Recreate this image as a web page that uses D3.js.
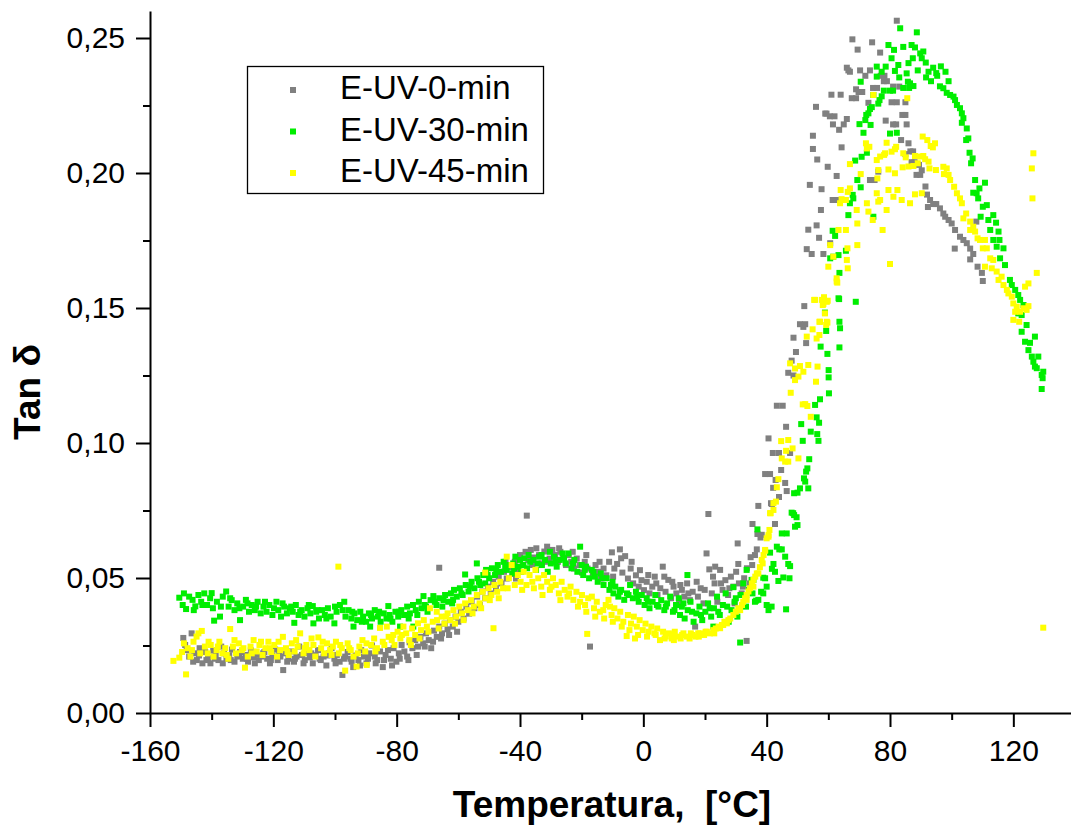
<!DOCTYPE html>
<html>
<head>
<meta charset="utf-8">
<script src="https://d3js.org/d3.v7.min.js"></script>
<style>
  body { margin: 0; background: #fff; }
  text { font-family: "Liberation Sans", Arial, sans-serif; }
</style>
</head>
<body>
<svg width="1071" height="828"></svg>
<script>
// tan delta vs temperature, [temperature °C, tan delta]
var uv0 = [
  [-149.2,.0278],[-148.1,.0233],[-147.3,.0209],[-146.5,.0295],[-145.6,.0221],[-144.8,.0196],[-143.9,.0240],[-143.0,.0184],[-142.1,.0226],[-141.2,.0204],
  [-140.4,.0184],[-139.5,.0231],[-138.7,.0212],[-137.8,.0196],[-136.9,.0246],[-136.0,.0221],[-135.2,.0201],[-134.3,.0214],[-133.4,.0235],[-132.6,.0190],
  [-131.7,.0209],[-130.8,.0226],[-129.9,.0201],[-129.0,.0215],[-128.2,.0190],[-127.3,.0232],[-126.4,.0206],[-125.6,.0218],[-124.7,.0196],[-123.8,.0209],
  [-122.9,.0226],[-122.0,.0201],[-121.1,.0184],[-120.3,.0213],[-119.4,.0235],[-118.6,.0196],[-117.7,.0209],[-116.8,.0159],[-116.0,.0221],[-115.1,.0201],
  [-114.2,.0228],[-113.3,.0190],[-112.5,.0209],[-111.6,.0246],[-110.7,.0215],[-109.8,.0196],[-109.0,.0221],[-108.1,.0206],[-107.2,.0184],[-106.3,.0214],
  [-105.5,.0233],[-104.6,.0196],[-103.7,.0209],[-102.8,.0176],[-102.0,.0221],[-101.1,.0240],[-100.2,.0201],[-99.4,.0215],[-98.5,.0190],[-97.6,.0141],
  [-96.7,.0209],[-95.9,.0226],[-95.0,.0201],[-94.1,.0170],[-93.3,.0213],[-92.4,.0196],[-91.5,.0233],[-90.6,.0209],[-89.8,.0184],[-88.9,.0221],
  [-88.0,.0250],[-87.1,.0209],[-86.3,.0196],[-85.4,.0228],[-84.5,.0170],[-83.6,.0215],[-82.8,.0233],[-81.9,.0201],[-81.0,.0240],[-80.1,.0190],
  [-79.3,.0221],[-78.4,.0252],[-77.5,.0228],[-76.6,.0209],[-75.8,.0262],[-74.9,.0240],[-74.0,.0270],[-73.1,.0246],[-72.3,.0282],[-71.4,.0258],
  [-70.5,.0295],[-69.6,.0270],[-68.8,.0240],[-67.9,.0305],[-67.0,.0282],[-66.2,.0538],[-66.2,.0320],[-65.3,.0295],[-64.4,.0331],[-63.5,.0310],
  [-62.7,.0344],[-61.8,.0320],[-60.9,.0357],[-60.0,.0338],[-59.2,.0375],[-58.3,.0350],[-57.4,.0394],[-56.5,.0368],[-55.7,.0412],[-54.8,.0388],
  [-53.9,.0431],[-53.0,.0400],[-52.2,.0450],[-51.3,.0425],[-50.4,.0468],[-49.5,.0443],[-48.7,.0486],[-47.8,.0462],[-46.9,.0505],[-46.0,.0480],
  [-45.2,.0523],[-44.3,.0498],[-43.4,.0540],[-42.5,.0515],[-41.7,.0560],[-40.8,.0532],[-40.0,.0585],[-39.1,.0548],[-38.2,.0597],[-37.8,.0731],
  [-37.3,.0567],[-36.5,.0604],[-35.6,.0576],[-34.7,.0610],[-33.8,.0585],[-33.0,.0554],[-32.1,.0598],[-31.2,.0616],[-30.4,.0572],[-29.5,.0604],
  [-28.6,.0585],[-27.7,.0560],[-26.9,.0597],[-26.0,.0573],[-25.1,.0548],[-24.2,.0585],[-23.4,.0560],[-22.5,.0535],[-21.6,.0572],[-20.7,.0548],
  [-19.9,.0520],[-19.0,.0560],[-18.1,.0535],[-17.3,.0246],[-16.4,.0510],[-15.5,.0548],[-14.6,.0523],[-13.8,.0498],[-12.9,.0535],[-12.0,.0510],
  [-11.1,.0560],[-10.2,.0595],[-9.4,.0535],[-8.5,.0552],[-7.6,.0606],[-6.8,.0520],[-5.9,.0581],[-5.0,.0498],[-4.1,.0535],[-3.3,.0480],
  [-2.4,.0510],[-1.5,.0468],[-0.6,.0492],[0.2,.0455],[1.1,.0486],[2.0,.0443],[2.9,.0468],[3.7,.0505],[4.6,.0437],[5.5,.0462],
  [6.3,.0542],[7.2,.0449],[8.1,.0493],[9.0,.0425],[9.8,.0468],[10.7,.0443],[11.6,.0412],[12.5,.0456],[13.3,.0431],[14.2,.0480],
  [15.1,.0418],[16.0,.0449],[16.8,.0320],[17.7,.0431],[18.6,.0462],[19.5,.0406],[20.5,.0591],[21.1,.0737],[21.4,.0532],[22.2,.0443],
  [23.1,.0480],[23.3,.0542],[24.0,.0412],[24.9,.0530],[25.7,.0456],[26.6,.0492],[27.5,.0437],[28.4,.0505],[29.2,.0468],[30.1,.0523],
  [30.6,.0628],[30.8,.0552],[31.0,.0480],[31.9,.0443],[32.7,.0499],[33.5,.0267],[33.6,.0536],[34.4,.0480],[34.8,.0577],[35.3,.0548],
  [35.4,.0700],[36.2,.0585],[36.8,.0606],[37.0,.0663],[37.3,.0767],[38.0,.0650],[38.4,.0660],[39.5,.0885],[40.6,.1017],[41.1,.0885],
  [41.4,.0777],[41.7,.0774],[42.1,.0834],[42.0,.0963],[42.7,.0700],[42.9,.0863],[43.3,.1138],[44.0,.0800],[44.0,.0963],[44.7,.0900],
  [45.2,.1138],[46.0,.0852],[46.3,.1060],[46.5,.0822],[47.0,.1260],[47.6,.0963],[48.1,.1305],[48.7,.1390],[48.7,.1250],[49.5,.1337],
  [50.8,.1440],[51.9,.1430],[52.2,.1507],[52.5,.1440],[52.8,.1370],[53.0,.1718],[53.5,.1790],[54.0,.1956],[54.6,.1700],[55.0,.2138],
  [55.0,.2089],[56.0,.2245],[56.2,.1806],[56.4,.2050],[57.0,.1760],[57.6,.1863],[57.8,.1940],[58.4,.1700],[59.0,.2220],[59.4,.2220],
  [59.8,.2023],[60.5,.2210],[60.6,.1740],[61.0,.2290],[61.4,.1900],[61.5,.2180],[62.0,.2210],[62.7,.1989],[62.7,.1900],[63.5,.2160],
  [64.0,.2290],[64.3,.2095],[65.0,.2180],[66.0,.2390],[66.0,.2200],[66.5,.2380],[67.0,.2375],[67.6,.2277],[67.8,.2495],[69.0,.2310],
  [69.0,.2277],[69.5,.2457],[69.8,.2300],[70.3,.2380],[71.0,.2300],[72.0,.2360],[73.0,.2260],[73.5,.2380],[73.5,.1974],[74.2,.2484],
  [74.5,.2315],[75.0,.1974],[75.8,.2315],[76.2,.2005],[76.8,.2446],[77.0,.2360],[78.0,.2340],[78.2,.2360],[78.6,.2194],[79.0,.2340],
  [80.5,.2262],[81.0,.2320],[81.0,.2180],[82.0,.2180],[82.2,.2564],[82.2,.2262],[83.0,.2320],[83.6,.2122],[84.0,.2215],[85.0,.2262],
  [85.0,.2215],[85.4,.2180],[85.0,.2070],[86.0,.2110],[86.6,.2080],[87.0,.2040],[87.5,.2080],[88.0,.2040],[88.6,.1993],[89.4,.2030],
  [89.8,.1993],[90.3,.2010],[91.5,.1950],[92.0,.1920],[92.3,.1874],[93.0,.1900],[94.0,.1885],[95.0,.1885],[96.2,.1869],[97.3,.1850],
  [97.9,.1838],[99.0,.1826],[100.0,.1813],[101.0,.1720],[101.1,.1789],[102.7,.1764],[103.8,.1752],[104.9,.1740],[106.0,.1720],[106.0,.1680],
  [107.0,.1700],[108.0,.1820],[108.4,.1653],[109.8,.1630],[110.1,.1600],
  // second scan of the low band
  [-148.6,.0252],[-146.0,.0190],[-144.1,.0213],[-141.7,.0196],[-139.0,.0201],[-136.4,.0184],[-133.8,.0196],[-131.1,.0215],[-128.6,.0201],[-126.0,.0184],
  [-123.3,.0221],[-120.8,.0196],[-118.1,.0215],[-115.5,.0190],[-113.0,.0201],[-110.2,.0184],[-107.7,.0221],[-105.0,.0201],[-102.4,.0213],[-99.8,.0184],
  [-97.1,.0201],[-94.6,.0190],[-91.9,.0176],[-89.3,.0201],[-86.8,.0184],[-84.1,.0196],[-81.5,.0176],[-79.0,.0201],[-76.2,.0196],[-73.5,.0215],
  [-70.9,.0246],[-68.2,.0264],[-65.6,.0276],[-63.0,.0289],[-60.4,.0301],[-44.7,.0560],[-41.3,.0498],[-36.0,.0548],[-31.6,.0560],[-27.3,.0610],
  [-22.9,.0597],[-18.5,.0585],[-14.2,.0560],[-9.8,.0505],[-7.2,.0573],[-3.8,.0560],[-1.1,.0529],[1.6,.0511],[4.2,.0480],[6.8,.0505],
  [9.4,.0486],[12.0,.0474],[14.6,.0443],[17.3,.0486],[19.9,.0456],[22.6,.0505],[25.2,.0480],[27.9,.0462],[29.6,.0406],[32.3,.0468]
];

var uv30 = [
  [-150.5,.0427],[-149.4,.0400],[-148.3,.0385],[-147.3,.0431],[-146.2,.0419],[-145.3,.0395],[-144.3,.0437],[-143.4,.0412],[-142.4,.0443],[-141.5,.0400],
  [-140.5,.0425],[-139.6,.0388],[-139.2,.0342],[-138.3,.0412],[-137.3,.0357],[-136.4,.0431],[-135.3,.0450],[-134.5,.0394],[-133.5,.0418],[-132.6,.0381],
  [-131.7,.0406],[-130.8,.0344],[-129.8,.0394],[-128.9,.0419],[-127.9,.0375],[-127.0,.0400],[-126.0,.0381],[-125.1,.0412],[-124.1,.0369],[-123.2,.0394],
  [-122.2,.0375],[-121.3,.0400],[-120.3,.0363],[-119.0,.0412],[-118.4,.0381],[-117.5,.0357],[-116.5,.0394],[-115.6,.0369],[-114.6,.0388],[-113.7,.0375],
  [-113.2,.0334],[-112.7,.0400],[-111.8,.0363],[-110.8,.0381],[-109.9,.0357],[-108.9,.0388],[-108.0,.0369],[-107.2,.0396],[-107.0,.0332],[-106.1,.0375],
  [-105.2,.0350],[-104.2,.0381],[-103.3,.0363],[-102.3,.0388],[-101.4,.0357],[-100.2,.0332],[-99.5,.0375],[-98.4,.0400],[-97.0,.0412],[-96.6,.0357],
  [-95.6,.0381],[-94.7,.0350],[-94.0,.0320],[-93.7,.0369],[-92.8,.0344],[-91.8,.0375],[-90.9,.0357],[-89.9,.0338],[-89.0,.0369],[-88.6,.0320],
  [-88.0,.0350],[-87.1,.0381],[-86.1,.0357],[-85.2,.0338],[-84.2,.0369],[-83.3,.0350],[-82.7,.0396],[-82.3,.0363],[-81.4,.0338],[-80.4,.0375],
  [-79.5,.0357],[-78.9,.0320],[-78.5,.0381],[-77.6,.0363],[-76.6,.0394],[-75.7,.0369],[-74.6,.0320],[-74.7,.0400],[-73.8,.0381],[-72.8,.0412],
  [-71.9,.0388],[-71.3,.0433],[-70.9,.0400],[-70.0,.0375],[-69.0,.0418],[-68.1,.0433],[-67.1,.0400],[-66.2,.0425],[-65.2,.0394],[-64.3,.0437],
  [-63.3,.0412],[-62.4,.0443],[-61.7,.0419],[-61.4,.0456],[-60.5,.0431],[-59.5,.0462],[-58.6,.0437],[-57.8,.0513],[-57.6,.0474],[-56.7,.0450],
  [-55.7,.0486],[-54.8,.0462],[-54.0,.0554],[-53.8,.0499],[-52.9,.0474],[-51.9,.0511],[-51.3,.0480],[-51.0,.0530],[-50.0,.0499],[-49.1,.0536],
  [-48.1,.0511],[-47.2,.0548],[-46.2,.0523],[-45.3,.0560],[-44.3,.0530],[-43.4,.0548],[-42.4,.0517],[-42.2,.0554],[-41.5,.0579],[-40.5,.0542],
  [-40.0,.0567],[-39.6,.0523],[-38.9,.0548],[-38.6,.0573],[-37.7,.0536],[-36.7,.0560],[-35.7,.0567],[-34.8,.0530],[-33.8,.0579],[-33.0,.0585],
  [-32.9,.0548],[-31.9,.0567],[-31.0,.0523],[-30.3,.0597],[-30.0,.0554],[-29.0,.0579],[-28.1,.0542],[-27.1,.0567],[-26.2,.0591],[-25.2,.0554],
  [-24.3,.0591],[-23.3,.0536],[-22.4,.0567],[-21.4,.0523],[-20.5,.0616],[-20.0,.0548],[-19.5,.0511],[-18.6,.0542],[-17.6,.0499],[-16.7,.0530],
  [-15.7,.0505],[-14.8,.0486],[-13.8,.0517],[-12.9,.0474],[-11.9,.0499],[-11.0,.0456],[-10.0,.0486],[-9.7,.0443],[-9.1,.0468],[-8.1,.0431],
  [-7.2,.0456],[-6.2,.0419],[-5.3,.0443],[-4.3,.0474],[-3.4,.0425],[-2.4,.0449],[-1.5,.0412],[-0.5,.0437],[0.4,.0400],[1.1,.0425],
  [2.0,.0388],[3.0,.0412],[3.9,.0437],[4.9,.0394],[5.8,.0418],[6.8,.0381],[7.7,.0406],[8.7,.0431],[9.6,.0375],[10.6,.0400],
  [11.5,.0425],[11.9,.0363],[12.5,.0394],[13.4,.0350],[14.3,.0511],[14.4,.0381],[15.3,.0412],[16.3,.0338],[17.2,.0369],[18.2,.0394],
  [19.1,.0344],[20.1,.0375],[21.0,.0406],[22.0,.0357],[22.7,.0320],[22.9,.0388],[23.9,.0431],[24.8,.0363],[25.8,.0400],[26.7,.0443],
  [27.7,.0338],[28.6,.0381],[29.2,.0466],[29.6,.0412],[30.5,.0357],[31.4,.0261],[31.5,.0437],[32.4,.0480],[33.3,.0394],[33.5,.0530],
  [34.3,.0456],[35.1,.0493],[35.7,.0493],[36.2,.0412],[36.6,.0416],[37.0,.0680],[37.3,.0419],[38.2,.0449],[38.9,.0443],[38.9,.0501],
  [39.5,.0499],[40.0,.0468],[40.0,.0400],[40.6,.0381],[41.1,.0594],[41.6,.0394],[41.7,.0534],[42.2,.0552],[42.7,.0523],[43.3,.0616],
  [43.8,.0489],[44.1,.0606],[44.9,.0606],[44.9,.0665],[45.4,.0502],[46.0,.0579],[46.3,.0384],[46.5,.0665],[47.0,.0552],[47.4,.0499],
  [47.6,.0544],[48.1,.0742],[48.6,.0740],[48.9,.0733],[48.9,.0814],[49.2,.0690],[49.7,.0725],[50.0,.0696],[50.0,.0816],[50.8,.0832],
  [51.2,.1070],[51.7,.1008],[52.1,.0869],[52.5,.0857],[52.8,.0894],[53.2,.0906],[53.5,.0832],[53.8,.0940],[54.3,.1042],[55.7,.1141],
  [56.2,.1095],[56.4,.1033],[56.8,.1008],[57.0,.1075],[57.3,.1162],[57.5,.1357],[58.9,.1483],[59.3,.1415],[59.7,.1330],[60.1,.1270],
  [60.1,.1243],[60.2,.1184],[60.6,.1684],[61.4,.1786],[61.6,.1690],[62.2,.1767],[63.3,.1696],[63.3,.1536],[63.5,.1533],[63.6,.1354],
  [63.6,.1630],[63.6,.1449],[63.8,.1425],[65.7,.1712],[66.5,.1844],[67.0,.1888],[67.9,.1919],[68.1,.1906],[68.7,.2046],[68.9,.1523],
  [69.4,.1974],[70.1,.2181],[70.5,.1947],[70.5,.2338],[70.8,.2060],[71.4,.2149],[72.0,.2196],[72.3,.2215],[72.5,.2075],[73.0,.2221],
  [73.5,.2237],[73.7,.2178],[74.1,.2244],[74.6,.2289],[74.6,.1838],[75.7,.2394],[75.7,.2357],[76.2,.2257],[76.6,.2270],[77.3,.2375],
  [77.3,.2284],[78.0,.2305],[78.6,.2394],[79.5,.2474],[80.0,.2146],[80.0,.2305],[80.5,.2425],[81.0,.2305],[81.3,.2456],[81.6,.2378],
  [82.2,.2149],[82.7,.2400],[83.0,.2354],[83.3,.2536],[84.3,.2467],[84.3,.2315],[85.4,.2369],[85.8,.2338],[86.0,.2407],[86.2,.2315],
  [86.5,.2332],[87.0,.2474],[87.4,.2425],[87.6,.2322],[88.1,.2465],[88.7,.2521],[89.0,.2380],[89.8,.2443],[90.3,.2425],[90.8,.2450],
  [91.6,.2409],[91.7,.2354],[92.5,.2375],[93.3,.2340],[94.0,.2390],[95.0,.2370],[95.3,.2360],[96.2,.2321],[96.5,.2395],[97.3,.2314],
  [98.0,.2375],[98.4,.2297],[99.0,.2340],[99.5,.2289],[100.6,.2283],[101.1,.2270],[101.7,.2252],[102.7,.2240],[103.3,.2221],[103.8,.2203],
  [103.3,.2186],[104.9,.2165],[105.4,.2128],[104.7,.2122],[105.8,.2075],[106.8,.2054],[106.3,.2036],[107.6,.1974],[110.8,.1964],[109.0,.1943],
  [108.1,.1925],[107.0,.1927],[108.6,.1906],[110.1,.1875],[111.4,.1881],[109.4,.1838],[111.9,.1826],[113.5,.1844],[114.4,.1816],[112.5,.1789],
  [115.2,.1783],[113.5,.1752],[115.5,.1752],[114.6,.1727],[116.8,.1721],[115.7,.1684],[117.3,.1659],[118.9,.1604],[119.5,.1585],[120.6,.1567],
  [121.6,.1548],[121.6,.1480],[122.2,.1530],[123.3,.1511],[122.7,.1474],[124.3,.1437],[122.7,.1412],[123.8,.1375],[125.4,.1371],[127.0,.1394],
  [124.9,.1344],[126.0,.1320],[128.1,.1320],[126.5,.1301],[127.0,.1283],[127.6,.1277],[129.2,.1252],[129.7,.1264],[129.5,.1240],[129.2,.1200],
  // second scan
  [-149.0,.0443],[-145.8,.0381],[-143.0,.0400],[-140.0,.0444],[-137.0,.0394],[-134.0,.0425],[-131.0,.0388],[-128.4,.0406],[-125.6,.0394],[-122.7,.0412],
  [-119.8,.0388],[-117.0,.0406],[-114.2,.0394],[-111.3,.0375],[-108.5,.0400],[-105.6,.0381],[-102.8,.0350],[-100.0,.0394],[-97.5,.0381],[-94.4,.0375],
  [-91.3,.0338],[-88.3,.0363],[-85.7,.0375],[-82.0,.0350],[-79.2,.0375],[-76.1,.0350],[-73.3,.0363],[-70.5,.0394],[-67.6,.0412],[-64.8,.0418],
  [-62.0,.0406],[-59.0,.0443],[-56.2,.0468],[-53.3,.0486],[-50.5,.0511],[-47.7,.0530],[-44.8,.0542],[-41.9,.0536],[-37.2,.0585],[-34.3,.0554],
  [-28.5,.0560],[-25.7,.0573],[-22.8,.0554],[-19.0,.0530],[-16.2,.0523],[-13.3,.0499],[-10.5,.0474],[-7.6,.0449],[-4.8,.0437],[-2.0,.0431],
  [1.5,.0412],[4.4,.0400],[7.3,.0394],[10.1,.0381],[13.0,.0406],[15.8,.0375],[18.7,.0363],[21.5,.0388],[24.3,.0375],[27.2,.0394],
  [30.0,.0425],[32.9,.0437],[35.4,.0443]
];

var uv45 = [
  [-152.4,.0193],[-150.5,.0205],[-149.6,.0226],[-148.3,.0143],[-147.8,.0240],[-146.9,.0209],[-145.9,.0264],[-144.9,.0283],[-144.3,.0295],[-143.2,.0304],
  [-142.2,.0246],[-141.3,.0221],[-140.3,.0252],[-139.4,.0209],[-138.4,.0233],[-137.5,.0264],[-136.5,.0221],[-135.6,.0240],[-134.6,.0201],[-134.0,.0311],
  [-133.1,.0246],[-132.1,.0221],[-131.2,.0258],[-130.2,.0233],[-129.2,.0168],[-128.3,.0209],[-127.4,.0246],[-126.4,.0270],[-125.4,.0228],[-124.5,.0252],
  [-123.5,.0215],[-122.6,.0240],[-121.6,.0264],[-120.7,.0226],[-119.7,.0252],[-118.8,.0209],[-117.8,.0233],[-116.9,.0282],[-115.9,.0240],[-115.0,.0215],
  [-114.0,.0258],[-113.1,.0228],[-112.1,.0246],[-111.3,.0295],[-110.2,.0221],[-109.3,.0252],[-108.3,.0233],[-107.6,.0276],[-106.4,.0209],[-105.4,.0280],
  [-104.5,.0240],[-103.5,.0221],[-102.6,.0258],[-101.6,.0233],[-100.7,.0246],[-99.7,.0264],[-98.9,.0542],[-98.8,.0221],[-97.8,.0240],[-96.7,.0157],
  [-95.9,.0258],[-94.9,.0233],[-94.0,.0209],[-93.0,.0172],[-92.1,.0246],[-91.1,.0270],[-90.2,.0228],[-89.7,.0178],[-88.3,.0252],[-87.3,.0276],
  [-86.4,.0240],[-85.4,.0315],[-84.5,.0264],[-83.2,.0320],[-82.6,.0282],[-81.1,.0289],[-80.7,.0252],[-79.7,.0301],[-78.8,.0276],[-77.8,.0320],
  [-76.9,.0295],[-75.9,.0270],[-75.0,.0313],[-74.0,.0289],[-73.1,.0332],[-72.1,.0307],[-71.2,.0344],[-70.2,.0320],[-69.2,.0388],[-68.3,.0338],
  [-67.0,.0375],[-66.4,.0313],[-65.4,.0357],[-64.5,.0331],[-63.5,.0369],[-62.6,.0344],[-61.6,.0381],[-60.7,.0357],[-59.7,.0394],[-58.8,.0369],
  [-57.8,.0406],[-56.9,.0381],[-55.9,.0418],[-55.0,.0394],[-54.0,.0437],[-53.1,.0406],[-52.1,.0449],[-51.3,.0520],[-51.2,.0425],[-50.2,.0462],
  [-49.3,.0437],[-48.6,.0314],[-48.3,.0474],[-47.4,.0449],[-46.4,.0486],[-45.5,.0462],[-44.3,.0579],[-43.6,.0499],[-42.7,.0548],[-41.7,.0474],
  [-40.7,.0511],[-39.8,.0486],[-38.8,.0523],[-37.9,.0474],[-36.9,.0511],[-36.0,.0486],[-35.0,.0530],[-34.1,.0499],[-33.1,.0468],[-32.2,.0511],
  [-31.2,.0486],[-30.3,.0456],[-29.3,.0499],[-28.4,.0474],[-27.4,.0443],[-26.5,.0486],[-25.5,.0456],[-24.6,.0431],[-23.6,.0468],[-22.7,.0419],
  [-21.7,.0449],[-20.5,.0412],[-19.9,.0437],[-18.9,.0400],[-18.2,.0293],[-17.9,.0425],[-16.7,.0431],[-16.0,.0388],[-15.1,.0412],[-14.1,.0375],
  [-13.0,.0381],[-12.2,.0400],[-11.3,.0419],[-10.8,.0394],[-10.3,.0363],[-9.4,.0388],[-8.4,.0350],[-7.5,.0375],[-6.5,.0338],[-5.4,.0285],
  [-5.0,.0363],[-4.0,.0331],[-3.1,.0357],[-2.7,.0276],[-2.1,.0320],[-1.2,.0344],[-0.2,.0307],[0.7,.0331],[1.7,.0301],[2.6,.0320],
  [3.6,.0295],[4.5,.0313],[5.4,.0270],[6.4,.0301],[7.3,.0283],[8.3,.0295],[9.2,.0276],[9.7,.0289],[10.2,.0301],[11.1,.0283],
  [12.1,.0276],[13.0,.0295],[14.1,.0283],[15.0,.0276],[15.9,.0289],[16.9,.0283],[17.8,.0295],[18.4,.0295],[19.7,.0289],[20.6,.0301],
  [21.6,.0295],[22.7,.0307],[23.5,.0313],[24.4,.0320],[24.9,.0314],[25.9,.0326],[26.3,.0338],[27.1,.0332],[27.6,.0344],[28.2,.0350],
  [29.2,.0363],[30.0,.0375],[30.8,.0388],[31.4,.0381],[32.0,.0400],[32.4,.0412],[33.0,.0425],[33.5,.0437],[33.5,.0419],[34.1,.0450],
  [34.6,.0462],[35.2,.0480],[35.7,.0468],[35.7,.0493],[36.3,.0505],[36.8,.0517],[37.3,.0517],[37.8,.0540],[38.4,.0567],[38.7,.0554],
  [39.0,.0585],[39.5,.0601],[39.5,.0604],[40.0,.0647],[40.6,.0653],[40.6,.0659],[40.9,.0678],[41.1,.0740],[41.3,.0740],[42.2,.0752],
  [42.2,.0777],[43.0,.0783],[43.3,.0836],[43.8,.0866],[44.7,.1007],[44.9,.0943],[46.0,.0931],[46.3,.0971],[47.0,.0931],[47.0,.1011],
  [47.6,.1295],[47.8,.1186],[48.4,.0980],[49.2,.1276],[49.2,.1233],[50.3,.0943],[50.3,.1246],[50.8,.1285],[51.7,.1143],[51.9,.1264],
  [52.5,.1144],[53.0,.1394],[53.2,.1137],[53.5,.1289],[54.3,.1097],[54.9,.1421],[55.4,.1530],[55.7,.1530],[56.0,.1227],[56.2,.1387],
  [56.5,.1283],[57.1,.1400],[57.1,.1449],[57.3,.1449],[57.9,.1530],[58.2,.1511],[58.4,.1515],[58.6,.1540],[58.9,.1480],[59.3,.1437],
  [59.5,.1449],[59.5,.1523],[59.7,.1446],[59.8,.1527],[60.0,.1653],[60.6,.1733],[61.6,.1690],[62.7,.1598],[62.7,.1610],[62.9,.1594],
  [63.3,.1789],[63.8,.1888],[64.0,.1937],[64.3,.1903],[65.7,.1900],[65.7,.1789],[66.0,.1678],[66.2,.1721],[66.3,.1647],[66.3,.1930],
  [67.0,.1943],[67.0,.2033],[69.2,.1863],[69.4,.1733],[69.4,.1813],[70.5,.1996],[72.2,.2110],[72.5,.1888],[72.5,.2091],[73.0,.1857],
  [73.3,.2097],[74.4,.1826],[74.6,.2289],[75.7,.1925],[75.7,.2048],[75.9,.1980],[76.2,.1894],[76.2,.2011],[76.8,.1900],[76.8,.2061],
  [77.6,.1789],[78.1,.2067],[78.4,.2073],[78.9,.1863],[78.9,.2112],[79.5,.1937],[79.5,.2013],[80.0,.1663],[80.5,.2079],[81.1,.1912],
  [81.6,.2088],[81.6,.1999],[82.0,.2097],[82.4,.1937],[83.8,.1900],[84.1,.2021],[84.3,.2073],[85.1,.2058],[85.6,.2277],[86.0,.2024],
  [86.5,.1888],[87.6,.2026],[88.1,.2063],[88.1,.1921],[89.0,.2036],[89.8,.2061],[90.3,.1925],[90.6,.2135],[90.8,.2063],[91.4,.2051],
  [92.1,.2122],[92.5,.2042],[92.8,.2017],[93.2,.2100],[93.9,.2095],[94.6,.2110],[94.9,.2011],[97.3,.2023],[97.5,.1996],[98.4,.2017],
  [99.0,.1993],[99.5,.1974],[100.8,.1949],[101.7,.1925],[102.7,.1906],[103.3,.1888],[103.8,.1832],[104.7,.1850],[106.0,.1820],[106.0,.1789],
  [107.0,.1801],[107.6,.1783],[108.4,.1758],[109.2,.1752],[110.1,.1721],[110.8,.1752],[110.8,.1653],[111.4,.1721],[112.5,.1684],[113.0,.1647],
  [113.5,.1678],[114.6,.1635],[115.2,.1604],[116.2,.1616],[116.8,.1585],[117.9,.1567],[118.4,.1554],[119.5,.1542],[120.0,.1517],[120.0,.1456],
  [120.6,.1486],[121.1,.1505],[121.9,.1449],[122.2,.1486],[123.3,.1499],[123.8,.1579],[124.3,.1493],[124.9,.1507],[124.9,.1591],[126.0,.2017],
  [126.2,.1906],[126.5,.2073],[127.6,.1630],[129.7,.0316],
  // second scan
  [-149.0,.0258],[-146.4,.0233],[-143.7,.0221],[-141.0,.0264],[-138.0,.0246],[-135.1,.0215],[-132.6,.0270],[-129.7,.0240],[-127.0,.0221],[-124.0,.0264],
  [-121.1,.0240],[-118.3,.0264],[-115.4,.0226],[-112.6,.0270],[-109.8,.0240],[-107.0,.0252],[-104.0,.0264],[-101.1,.0215],[-98.3,.0252],[-95.4,.0240],
  [-92.6,.0221],[-89.8,.0258],[-86.9,.0228],[-84.0,.0252],[-81.6,.0270],[-78.3,.0289],[-75.4,.0252],[-72.6,.0276],[-69.7,.0301],[-66.9,.0344],
  [-64.0,.0357],[-61.1,.0331],[-58.3,.0344],[-55.4,.0369],[-52.6,.0388],[-49.8,.0418],[-46.9,.0425],[-44.0,.0462],[-39.3,.0456],[-35.5,.0462],
  [-32.7,.0437],[-29.8,.0468],[-26.9,.0418],[-24.1,.0443],[-21.2,.0394],[-18.5,.0375],[-15.6,.0357],[-12.7,.0350],[-9.9,.0338],[-7.0,.0320],
  [-4.5,.0307],[-1.7,.0289],[1.2,.0283],[4.0,.0289],[6.9,.0276],[9.9,.0270],[12.6,.0289],[15.4,.0295],[18.0,.0283],[20.2,.0301],
  [23.0,.0295],[25.5,.0326]
];

var seriesNames = ["E-UV-0-min", "E-UV-30-min", "E-UV-45-min"];
var seriesColors = ["#808080", "#00ee00", "#ffff00"];
var xTicks = [-160, -120, -80, -40, 0, 40, 80, 120];
var yTicks = [0, 0.05, 0.10, 0.15, 0.20, 0.25];

var svg = d3.select("svg"),
    width = +svg.attr("width"),
    height = +svg.attr("height");

var x = d3.scaleLinear().domain([-160, 140]).range([150, 1075]);
var y = d3.scaleLinear().domain([0, 0.26]).range([713, 11]);

var comma = function(d) { return d3.format(".2f")(d).replace(".", ","); };

// points: gray under, green, yellow on top
var allSeries = [uv0, uv30, uv45];
allSeries.forEach(function(data, i) {
  svg.append("g")
    .selectAll("rect")
    .data(data)
    .enter().append("rect")
      .attr("x", function(d) { return x(d[0]) - 3; })
      .attr("y", function(d) { return y(d[1]) - 3; })
      .attr("width", 6)
      .attr("height", 6)
      .attr("fill", seriesColors[i]);
});

// minor ticks
svg.append("g")
    .attr("transform", "translate(0,713)")
    .call(d3.axisBottom(x).tickValues(d3.range(-140, 140, 40)).tickSize(7).tickFormat(""))
    .call(function(g) { g.select(".domain").remove(); });
svg.append("g")
    .attr("transform", "translate(150,0)")
    .call(d3.axisLeft(y).tickValues([0.025, 0.075, 0.125, 0.175, 0.225]).tickSize(7).tickFormat(""))
    .call(function(g) { g.select(".domain").remove(); });

// major axes
svg.append("g")
    .attr("transform", "translate(0,713)")
    .call(d3.axisBottom(x).tickValues(xTicks).tickSize(14).tickSizeOuter(0).tickPadding(13)
      .tickFormat(function(d) { return String(d); }));
svg.append("g")
    .attr("transform", "translate(150,0)")
    .call(d3.axisLeft(y).tickValues(yTicks).tickSize(14).tickSizeOuter(0).tickPadding(11).tickFormat(comma));

svg.selectAll(".tick line, .domain")
    .attr("stroke", "#000")
    .attr("stroke-width", 2);
svg.selectAll(".tick text")
    .attr("fill", "#000")
    .style("font-size", "30px")
    .style("font-family", "'Liberation Sans', Arial, sans-serif");

// axis titles
svg.append("text")
    .attr("x", 612)
    .attr("y", 817)
    .attr("text-anchor", "middle")
    .style("font-size", "37px")
    .style("font-weight", "bold")
    .style("white-space", "pre")
    .text("Temperatura,  [°C]");

svg.append("text")
    .attr("transform", "translate(40,392) rotate(-90)")
    .attr("text-anchor", "middle")
    .style("font-size", "37px")
    .style("font-weight", "bold")
    .text("Tan δ");

// legend
var legend = svg.append("g");
legend.append("rect")
    .attr("x", 247.5)
    .attr("y", 66.5)
    .attr("width", 296)
    .attr("height", 127)
    .attr("fill", "#fff")
    .attr("stroke", "#000")
    .attr("stroke-width", 1.3);

var rows = legend.selectAll("g.row")
    .data(seriesNames)
    .enter().append("g")
      .attr("class", "row")
      .attr("transform", function(d, i) { return "translate(0," + (90 + i * 41.5) + ")"; });

rows.append("rect")
    .attr("x", 290)
    .attr("y", -3)
    .attr("width", 6)
    .attr("height", 6)
    .attr("fill", function(d, i) { return seriesColors[i]; });

rows.append("text")
    .attr("x", 340)
    .attr("y", 9)
    .style("font-size", "33px")
    .text(function(d) { return d; });
</script>
</body>
</html>
